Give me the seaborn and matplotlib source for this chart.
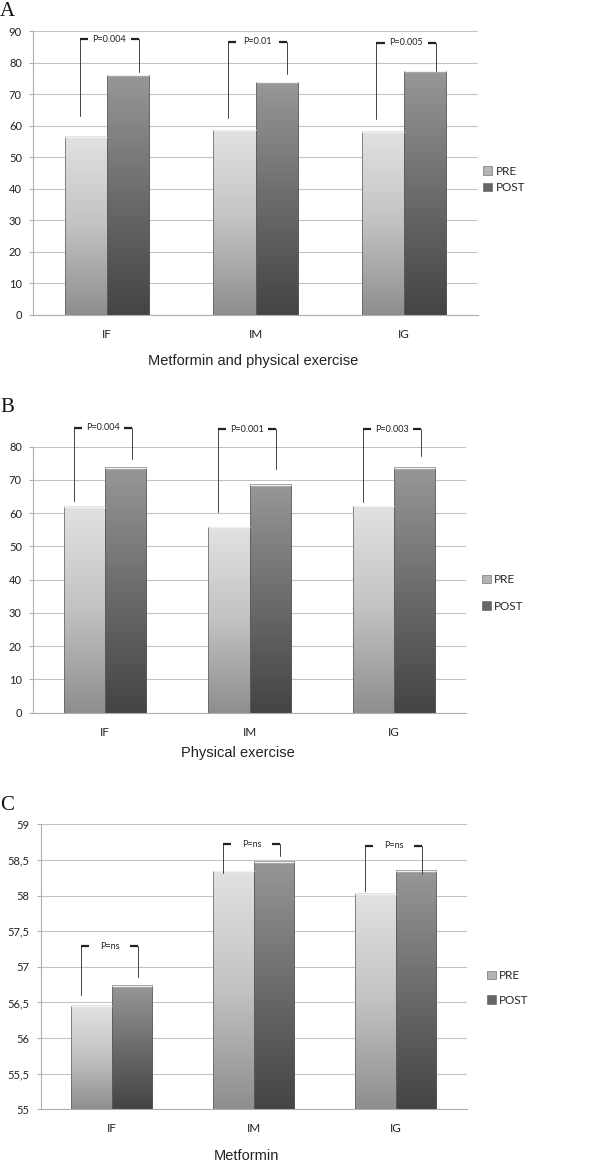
import numpy as np
import pandas as pd
import matplotlib
matplotlib.use("Agg")
import matplotlib.pyplot as plt
from matplotlib.patches import Patch
from matplotlib.colors import LinearSegmentedColormap
from matplotlib.ticker import FuncFormatter
import seaborn as sns

# groups and phases shared by the three panels
groups = ["IF", "IM", "IG"]
phases = ["PRE", "POST"]

# A - metformin and physical exercise
a_pre = [56.5, 58.6, 58.0]
a_post = [75.9, 73.7, 77.3]
a_pvals = ["P=0.004", "P=0.01", "P=0.005"]
a_br_left = [63.0, 62.5, 62.1]
a_br_right = [77.0, 76.4, 77.3]
a_br_top = [87.4, 86.6, 86.3]

# B - physical exercise
b_pre = [62.0, 55.7, 62.2]
b_post = [73.7, 68.6, 73.7]
b_pvals = ["P=0.004", "P=0.001", "P=0.003"]
b_br_left = [63.7, 60.4, 63.3]
b_br_right = [76.3, 73.3, 77.3]
b_br_top = [85.7, 85.3, 85.3]

# C - metformin
c_pre = [56.45, 58.34, 58.02]
c_post = [56.73, 58.47, 58.35]
c_pvals = ["P=ns", "P=ns", "P=ns"]
c_br_left = [56.60, 58.31, 58.06]
c_br_right = [56.85, 58.56, 58.30]
c_br_top = [57.29, 58.72, 58.70]

sns.set_style("white")
plt.rcParams["font.family"] = ["Lato", "DejaVu Sans"]

palette = {"PRE": "#b4b4b4", "POST": "#666666"}
cmaps = {
    "PRE": LinearSegmentedColormap.from_list("pre", ["#8e8e8e", "#c2c2c2", "#e2e2e2"]),
    "POST": LinearSegmentedColormap.from_list("post", ["#444444", "#6c6c6c", "#979797"]),
}


def shade_bars(ax, bars, cmap, ybottom):
    grad = np.linspace(1, 0, 256).reshape(-1, 1)
    for bar in bars:
        x = bar.get_x()
        w = bar.get_width()
        top = bar.get_y() + bar.get_height()
        bottom = max(bar.get_y(), ybottom)
        ax.imshow(grad, cmap=cmap, aspect="auto", origin="upper",
                  extent=(x, x + w, bottom, top), zorder=1.5,
                  interpolation="bilinear")
        bar.set_facecolor("none")
        bar.set_edgecolor("#5c5c5c")
        bar.set_linewidth(0.5)
        bar.set_zorder(2)
        # light rim at the top of the bar
        ax.plot([x, x + w], [top, top], color="#f0f0f0", lw=1.0, zorder=2.1,
                solid_capstyle="butt")


def draw_panel(ax, pre, post, pvals, br_left, br_right, br_top,
               ylim, yticks, xlabel, label_xy, legend_xy, legend_space,
               br_shift, comma=False):
    df = pd.DataFrame({
        "group": groups * 2,
        "phase": ["PRE"] * 3 + ["POST"] * 3,
        "value": pre + post,
    })
    sns.barplot(data=df, x="group", y="value", hue="phase", hue_order=phases,
                palette=palette, width=0.57, gap=0, saturation=1,
                errorbar=None, legend=False, ax=ax)

    for cont, ph in zip(ax.containers, phases):
        shade_bars(ax, cont, cmaps[ph], ylim[0])

    ax.set_xlim(-0.5, 2.5)
    ax.set_ylim(*ylim)
    ax.set_yticks(yticks)
    if comma:
        ax.yaxis.set_major_formatter(
            FuncFormatter(lambda v, p: "{:g}".format(v).replace(".", ",")))
    ax.yaxis.grid(True, color="#c4c4c4", lw=0.8)
    ax.set_axisbelow(True)

    for s in ["top", "right"]:
        ax.spines[s].set_visible(False)
    for s in ["left", "bottom"]:
        ax.spines[s].set_color("#b0b0b0")
        ax.spines[s].set_linewidth(0.8)

    ax.set_xticks(range(len(groups)))
    ax.set_xticks([-0.5, 0.5, 1.5, 2.5], minor=True)
    ax.tick_params(axis="x", which="major", length=0, pad=10, labelsize=8.5,
                   labelcolor="#222222")
    ax.tick_params(axis="x", which="minor", length=4, width=0.8,
                   color="#b0b0b0")
    ax.tick_params(axis="y", length=3, width=0.8, color="#b0b0b0", pad=5,
                   labelsize=8, labelcolor="#222222", left=True)

    ax.set_ylabel("")
    ax.set_xlabel(xlabel, fontsize=10.5, family="Liberation Sans",
                  color="#222222")
    ax.xaxis.set_label_coords(*label_xy)
    ax.xaxis.label.set_va("center")

    # significance brackets
    for i, (txt, yl, yr, yt) in enumerate(zip(pvals, br_left, br_right, br_top)):
        xl = i - 0.2 + br_shift
        xr = i + 0.2 + br_shift
        ax.plot([xl, xl], [yl, yt], color="#444444", lw=0.7, clip_on=False,
                zorder=3)
        ax.plot([xr, xr], [yr, yt], color="#444444", lw=0.7, clip_on=False,
                zorder=3)
        ax.plot([xl, xl + 0.055], [yt, yt], color="#222222", lw=1.6,
                clip_on=False, zorder=3, solid_capstyle="butt")
        ax.plot([xr - 0.055, xr], [yt, yt], color="#222222", lw=1.6,
                clip_on=False, zorder=3, solid_capstyle="butt")
        ax.text((xl + xr) / 2, yt, txt, ha="center", va="center",
                fontsize=6.5, color="#222222", clip_on=False)

    handles = [Patch(facecolor=palette[p], edgecolor="#5c5c5c", lw=0.4)
               for p in phases]
    fig.legend(handles, phases, loc="center left", bbox_to_anchor=legend_xy,
               frameon=False, fontsize=8.5, handlelength=0.75,
               handleheight=0.75, handletextpad=0.3, borderpad=0,
               borderaxespad=0, labelspacing=legend_space)


W, H = 600, 1164
fig = plt.figure(figsize=(W / 100, H / 100), dpi=100)

def axes_px(left, top, right, bottom):
    return fig.add_axes([left / W, 1 - bottom / H, (right - left) / W,
                         (bottom - top) / H])

ax_a = axes_px(33, 31, 478, 315)
ax_b = axes_px(33, 446.7, 466, 712.7)
ax_c = axes_px(40.7, 824.3, 466.7, 1109.3)

draw_panel(ax_a, a_pre, a_post, a_pvals, a_br_left, a_br_right, a_br_top,
           (0, 90), range(0, 91, 10), "Metformin and physical exercise",
           (0.494, -0.162), (483 / W, 1 - 179.4 / H), 0.45, 0.015)
draw_panel(ax_b, b_pre, b_post, b_pvals, b_br_left, b_br_right, b_br_top,
           (0, 80), range(0, 81, 10), "Physical exercise",
           (0.473, -0.151), (481.7 / W, 1 - 592.9 / H), 1.3, -0.015)
draw_panel(ax_c, c_pre, c_post, c_pvals, c_br_left, c_br_right, c_br_top,
           (55, 59), np.arange(55, 59.01, 0.5), "Metformin",
           (0.482, -0.165), (486.7 / W, 1 - 987.9 / H), 1.15, -0.015,
           comma=True)

for letter, yc in zip(["A", "B", "C"], [12, 408, 806]):
    fig.text(0.0, 1 - yc / H, letter, fontsize=15, family="Liberation Serif",
             ha="left", va="center", color="#111111")

fig.savefig("out.png", dpi=100, facecolor="white")
